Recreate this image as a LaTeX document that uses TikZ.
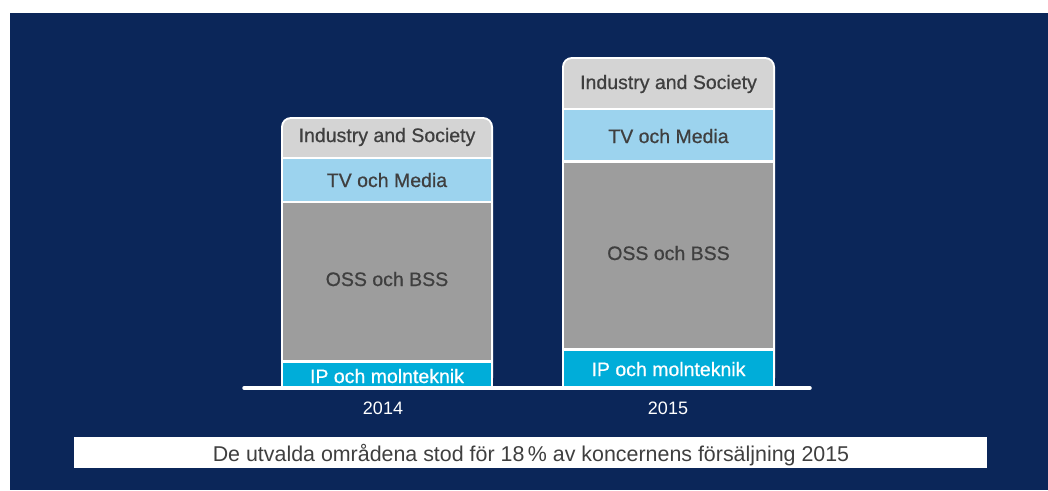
\documentclass[tikz,border=0pt]{standalone}
\usepackage{fontspec}
\setmainfont{Liberation Sans}
\newfontfamily\medfont[FakeBold=0.7]{Liberation Sans}
\definecolor{navy}{HTML}{0B2659}
\definecolor{segind}{HTML}{D4D4D4}
\definecolor{segtv}{HTML}{9CD3EE}
\definecolor{segoss}{HTML}{9D9D9D}
\definecolor{segip}{HTML}{00ADD9}
\definecolor{txt}{HTML}{3F3F3F}
\tikzset{
  lbl/.style={inner sep=0pt, text height=14pt, text depth=0pt, text=txt, font=\medfont\fontsize{19.5}{22}\selectfont},
  iplbl/.style={lbl, text=white},
  yearlbl/.style={inner sep=0pt, text height=13pt, text depth=0pt, text=white, font=\fontsize{18}{21}\selectfont},
  caplbl/.style={inner sep=0pt, text height=15.3pt, text depth=0pt, text=txt, font=\fontsize{21.4}{24}\selectfont},
  outline/.style={fill=white, rounded corners=10pt},
}
\begin{document}
\begin{tikzpicture}[x=1pt,y=-1pt]
\useasboundingbox (0,0) rectangle (1048,490);
\fill[white] (0,0) rectangle (1048,490);
\fill[navy] (10,13) rectangle (1048,490);

% ---- 2014 bar ----
\fill[outline] (281,388) -- (281,117) -- (493,117) -- (493,388) [sharp corners] -- cycle;
\fill[white] (281,300) rectangle (493,388);
\begin{scope}
  \clip (283,119) rectangle (491,156);
  \fill[segind, rounded corners=8pt] (283,119) rectangle (491,175);
\end{scope}
\fill[segtv] (283,159) rectangle (491,201);
\fill[segoss] (283,203) rectangle (491,360);
\fill[segip] (283,363) rectangle (491,387);
\node[lbl] (ind14) at (387,135) {Industry and Society};
\node[lbl] (tv14) at (387,180) {TV och Media};
\node[lbl] (oss14) at (387,279) {OSS och BSS};
\node[iplbl] (ip14) at (387,376) {IP och molnteknik};

% ---- 2015 bar ----
\fill[outline] (562,388) -- (562,57) -- (775,57) -- (775,388) [sharp corners] -- cycle;
\fill[white] (562,300) rectangle (775,388);
\begin{scope}
  \clip (564,59) rectangle (773,107);
  \fill[segind, rounded corners=8pt] (564,59) rectangle (773,130);
\end{scope}
\fill[segtv] (564,110) rectangle (773,160);
\fill[segoss] (564,163) rectangle (773,348);
\fill[segip] (564,351) rectangle (773,387);
\node[lbl] (ind15) at (668.5,82) {Industry and Society};
\node[lbl] (tv15) at (668.5,136) {TV och Media};
\node[lbl] (oss15) at (668.5,253) {OSS och BSS};
\node[iplbl] (ip15) at (668.5,369) {IP och molnteknik};

% ---- baseline ----
\coordinate (bl) at (244,388);
\coordinate (br) at (810,388);
\draw[white, line width=3.5pt, line cap=round] (bl) -- (br);

\node[yearlbl] (y14) at (383,408) {2014};
\node[yearlbl] (y15) at (668,408) {2015};

% ---- caption ----
\fill[white] (74,437) rectangle (987,468);
\node[caplbl] (cap) at (531,454) {De utvalda områdena stod för 18\,\% av koncernens försäljning 2015};
\end{tikzpicture}
\end{document}
